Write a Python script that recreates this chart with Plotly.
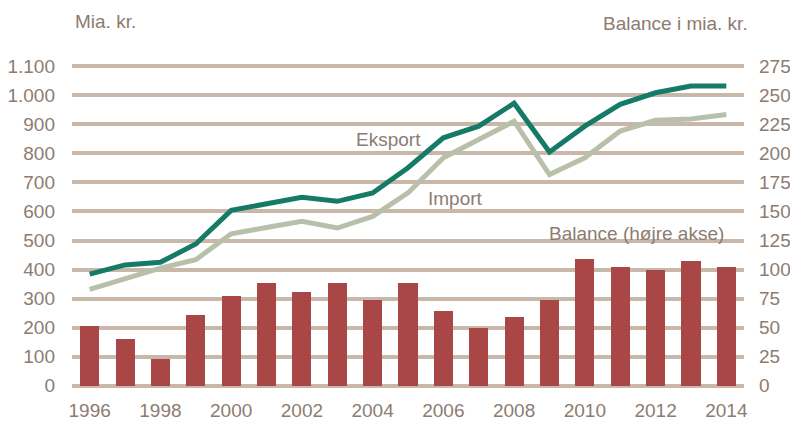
import plotly.graph_objects as go

years = list(range(1996, 2015))
eksport = [384, 416, 425, 488, 604, 627, 649, 635, 664, 751, 854, 894, 973, 805, 894, 969, 1009, 1032, 1032]
import_ = [332, 370, 405, 434, 523, 545, 566, 543, 583, 664, 785, 848, 911, 727, 785, 877, 914, 919, 934]
balance = [51, 40, 23, 61, 77.5, 88.5, 81, 88.5, 73.5, 88.5, 64.5, 49.5, 59, 74, 109.5, 102, 100, 107.5, 102]

left_ticks = list(range(0, 1101, 100))
left_labels = ["0", "100", "200", "300", "400", "500", "600", "700", "800", "900", "1.000", "1.100"]
right_ticks = list(range(0, 276, 25))
x_ticks = list(range(1996, 2015, 2))

FONT = "Liberation Sans, Arial, sans-serif"
SIZE = 19
TXT = "#8C7C71"
GRID = "#C9B8AA"

fig = go.Figure()
fig.add_trace(go.Bar(x=years, y=balance, yaxis="y", marker=dict(color="#A94646", line=dict(width=0)),
                     width=0.54, name="Balance"))
fig.add_trace(go.Scatter(x=years, y=import_, yaxis="y2", mode="lines",
                         line=dict(color="#B9C0A9", width=5), name="Import"))
fig.add_trace(go.Scatter(x=years, y=eksport, yaxis="y2", mode="lines",
                         line=dict(color="#167B66", width=5), name="Eksport"))

# page body has an 8px margin, so the figure is sized/offset to compensate
fig.update_layout(
    width=790, height=417,
    margin=dict(l=64, r=54, t=54, b=35, autoexpand=False),
    paper_bgcolor="white", plot_bgcolor="white",
    showlegend=False, bargap=0,
    font=dict(family=FONT, size=SIZE, color=TXT),
    xaxis=dict(range=[1995.5, 2014.5], tickvals=x_ticks, showgrid=False, zeroline=False,
               showline=False, ticks="", ticklabelstandoff=7, automargin=False,
               tickfont=dict(family=FONT, size=SIZE, color=TXT)),
    yaxis=dict(side="right", range=[-3.75, 278.75], tickvals=right_ticks,
               showgrid=True, gridcolor=GRID, gridwidth=4, zeroline=False, showline=False,
               ticks="", ticklabelstandoff=14, automargin=False,
               tickfont=dict(family=FONT, size=SIZE, color=TXT)),
    yaxis2=dict(side="left", overlaying="y", range=[-15, 1115], tickvals=left_ticks,
                ticktext=left_labels, showgrid=False, zeroline=False, showline=False,
                ticks="", ticklabelstandoff=16, automargin=False,
                tickfont=dict(family=FONT, size=SIZE, color=TXT)),
    annotations=[
        dict(text="Mia. kr.", xref="paper", yref="paper", x=0.0015, y=1.1234,
             xanchor="left", yanchor="middle", showarrow=False,
             font=dict(family=FONT, size=SIZE, color=TXT)),
        dict(text="Balance i mia. kr.", xref="paper", yref="paper", x=1.0095, y=1.117,
             xanchor="right", yanchor="middle", showarrow=False,
             font=dict(family=FONT, size=SIZE, color=TXT)),
        dict(text="Eksport", xref="x", yref="y2", x=2004.45, y=848,
             xanchor="center", yanchor="middle", showarrow=False,
             font=dict(family=FONT, size=SIZE, color=TXT)),
        dict(text="Import", xref="x", yref="y2", x=2006.35, y=644,
             xanchor="center", yanchor="middle", showarrow=False,
             font=dict(family=FONT, size=SIZE, color=TXT)),
        dict(text="Balance (højre akse)", xref="x", yref="y", x=2011.47, y=130.8,
             xanchor="center", yanchor="middle", showarrow=False,
             font=dict(family=FONT, size=SIZE, color=TXT)),
    ],
)

fig.write_html("out.html")
